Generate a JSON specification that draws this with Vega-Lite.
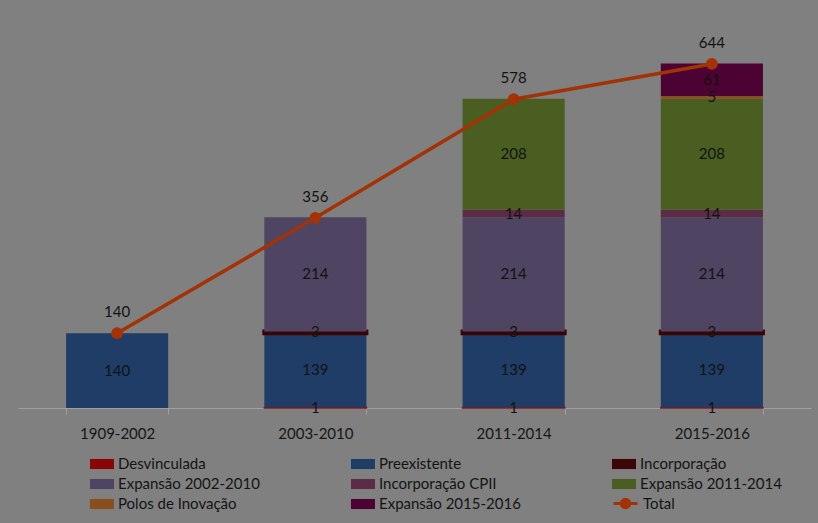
{
  "$schema": "https://vega.github.io/schema/vega-lite/v6.json",
  "width": 793,
  "height": 374,
  "autosize": "none",
  "padding": {"left": 18, "top": 34, "right": 7, "bottom": 115},
  "background": "#808080",
  "config": {
    "view": {"stroke": null},
    "font": "Lato",
    "text": {"font": "Lato"}
  },
  "datasets": {
    "bars": [
      {"periodo": "1909-2002", "serie": "Preexistente", "valor": 140, "k": 2},
      {"periodo": "2003-2010", "serie": "Desvinculada", "valor": 1, "k": 1},
      {"periodo": "2003-2010", "serie": "Preexistente", "valor": 139, "k": 2},
      {"periodo": "2003-2010", "serie": "Incorporação", "valor": 3, "k": 3},
      {"periodo": "2003-2010", "serie": "Expansão 2002-2010", "valor": 214, "k": 4},
      {"periodo": "2011-2014", "serie": "Desvinculada", "valor": 1, "k": 1},
      {"periodo": "2011-2014", "serie": "Preexistente", "valor": 139, "k": 2},
      {"periodo": "2011-2014", "serie": "Incorporação", "valor": 3, "k": 3},
      {"periodo": "2011-2014", "serie": "Expansão 2002-2010", "valor": 214, "k": 4},
      {"periodo": "2011-2014", "serie": "Incorporação CPII", "valor": 14, "k": 5},
      {"periodo": "2011-2014", "serie": "Expansão 2011-2014", "valor": 208, "k": 6},
      {"periodo": "2015-2016", "serie": "Desvinculada", "valor": 1, "k": 1},
      {"periodo": "2015-2016", "serie": "Preexistente", "valor": 139, "k": 2},
      {"periodo": "2015-2016", "serie": "Incorporação", "valor": 3, "k": 3},
      {"periodo": "2015-2016", "serie": "Expansão 2002-2010", "valor": 214, "k": 4},
      {"periodo": "2015-2016", "serie": "Incorporação CPII", "valor": 14, "k": 5},
      {"periodo": "2015-2016", "serie": "Expansão 2011-2014", "valor": 208, "k": 6},
      {"periodo": "2015-2016", "serie": "Polos de Inovação", "valor": 5, "k": 7},
      {"periodo": "2015-2016", "serie": "Expansão 2015-2016", "valor": 61, "k": 8}
    ],
    "totals": [
      {"periodo": "1909-2002", "serie": "Total", "total": 140},
      {"periodo": "2003-2010", "serie": "Total", "total": 356},
      {"periodo": "2011-2014", "serie": "Total", "total": 578},
      {"periodo": "2015-2016", "serie": "Total", "total": 644}
    ]
  },
  "resolve": {"scale": {"color": "independent"}, "legend": {"color": "independent"}},
  "layer": [
    {
      "data": {"name": "bars"},
      "mark": {"type": "bar"},
      "encoding": {
        "x": {
          "field": "periodo", "type": "nominal", "sort": null,
          "scale": {"paddingInner": 0.485, "paddingOuter": 0.2425},
          "axis": {
            "title": null, "labelAngle": 0, "labelFont": "Lato", "labelFontSize": 15,
            "labelColor": "#161616", "labelPadding": 12, "domainColor": "#a0a0a0",
            "tickColor": "#a0a0a0", "tickSize": 6, "tickBand": "extent", "domainWidth": 1
          }
        },
        "y": {
          "field": "valor", "type": "quantitative", "stack": "zero",
          "scale": {"domain": [0, 700], "nice": false},
          "axis": null
        },
        "order": {"field": "k", "type": "quantitative"},
        "color": {
          "field": "serie", "type": "nominal",
          "scale": {
            "domain": ["Desvinculada", "Preexistente", "Incorporação", "Expansão 2002-2010", "Incorporação CPII", "Expansão 2011-2014", "Polos de Inovação", "Expansão 2015-2016"],
            "range": ["#8a0505", "#1f3d66", "#3d0606", "#4f4461", "#5c2c46", "#4a5e22", "#8a4f1e", "#4d0234"]
          },
          "legend": {
            "title": null, "orient": "none", "legendX": 72, "legendY": 418, "columns": 3,
            "direction": "horizontal",
            "columnPadding": 91, "rowPadding": 0, "padding": 0,
            "labelFont": "Lato", "labelFontSize": 15, "labelColor": "#141414", "labelOffset": 4,
            "symbolType": "M-1,-0.42H1V0.42H-1Z", "symbolSize": 576, "symbolStrokeWidth": 0,
            "labelLimit": 300
          }
        },
        "stroke": {
          "condition": [
            {"test": "datum.serie === 'Incorporação'", "value": "#3a0404"},
            {"test": "datum.serie === 'Desvinculada'", "value": "#8f1010"}
          ],
          "value": null
        },
        "strokeWidth": {
          "condition": [
            {"test": "datum.serie === 'Incorporação'", "value": 4},
            {"test": "datum.serie === 'Desvinculada'", "value": 1.5}
          ],
          "value": 0
        }
      }
    },
    {
      "data": {"name": "bars"},
      "mark": {"type": "text", "font": "Lato", "fontSize": 15, "color": "#121212", "baseline": "middle"},
      "encoding": {
        "x": {"field": "periodo", "type": "nominal", "sort": null},
        "y": {"field": "valor", "type": "quantitative", "stack": "zero", "bandPosition": 0.5},
        "order": {"field": "k", "type": "quantitative"},
        "detail": {"field": "serie"},
        "text": {"field": "valor", "type": "quantitative"}
      }
    },
    {
      "data": {"name": "totals"},
      "mark": {"type": "line", "strokeWidth": 3.5, "point": {"filled": true, "size": 140}},
      "encoding": {
        "x": {"field": "periodo", "type": "nominal", "sort": null},
        "y": {"field": "total", "type": "quantitative"},
        "color": {
          "field": "serie", "type": "nominal",
          "scale": {"domain": ["Total"], "range": ["#a33206"]},
          "legend": {
            "title": null, "orient": "none", "legendX": 594, "legendY": 456, "padding": 0,
            "labelFont": "Lato", "labelFontSize": 15, "labelColor": "#141414", "labelOffset": 4,
            "symbolType": "M-1,0H1M-0.35,0A0.35,0.35 0 1,0 0.35,0A0.35,0.35 0 1,0 -0.35,0Z",
            "symbolSize": 576, "symbolStrokeWidth": 3, "symbolStrokeColor": "#a33206", "symbolFillColor": "#a33206"
          }
        }
      }
    },
    {
      "data": {"name": "totals"},
      "mark": {"type": "text", "font": "Lato", "fontSize": 15, "color": "#121212", "baseline": "middle", "dy": -21},
      "encoding": {
        "x": {"field": "periodo", "type": "nominal", "sort": null},
        "y": {"field": "total", "type": "quantitative"},
        "text": {"field": "total", "type": "quantitative"}
      }
    }
  ]
}
